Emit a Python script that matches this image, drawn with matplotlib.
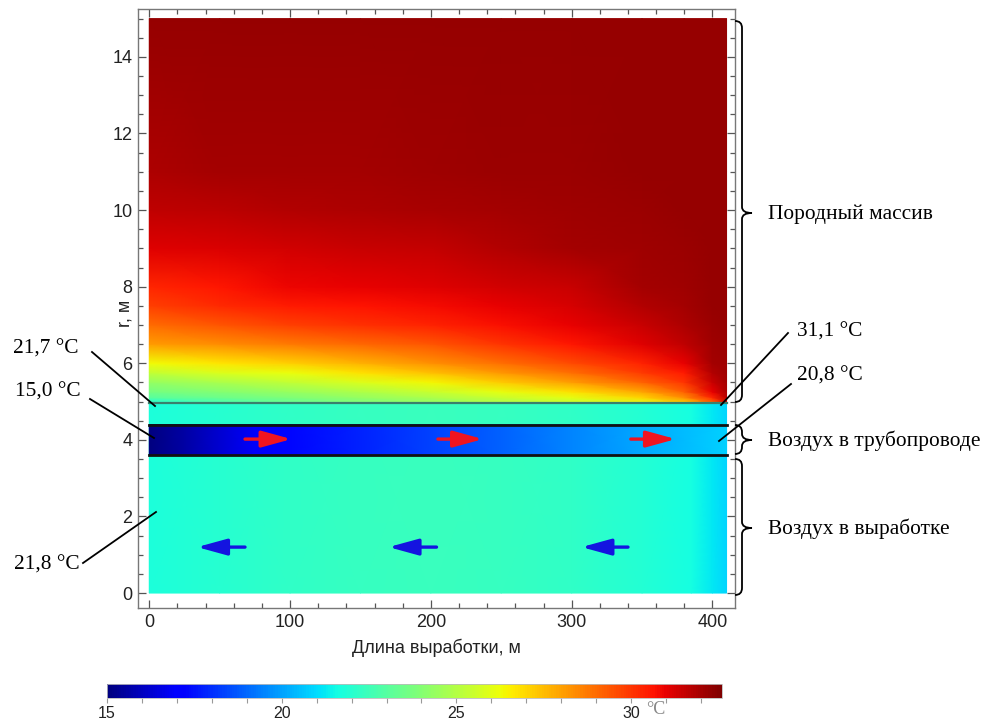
import matplotlib
matplotlib.use("Agg")
import matplotlib.pyplot as plt
import numpy as np
from matplotlib.lines import Line2D
from matplotlib.patches import PathPatch
from matplotlib.path import Path
from matplotlib.ticker import MultipleLocator
from matplotlib.colors import Normalize
from matplotlib.cm import ScalarMappable

W, H = 991, 722
T_MIN, T_MAX = 15.0, 32.6

# rock massif temperature, degC (rows follow ROCK_R, columns follow ROCK_X)
ROCK_X = [0, 50, 100, 150, 200, 250, 300, 350, 380, 400, 410]
ROCK_R = [4.95, 5.1, 5.25, 5.5, 5.75, 6.0, 6.5, 7.0, 7.5, 8.0, 9.0, 10.0, 11.0, 15.0]
ROCK_T = [
    [21.7, 22.5, 23.2, 23.7, 24.2, 24.7, 25.2, 25.8, 27.0, 29.0, 31.1],
    [23.0, 23.4, 23.8, 24.3, 24.8, 25.4, 26.0, 27.0, 28.3, 30.2, 31.6],
    [23.6, 24.0, 24.4, 24.9, 25.4, 26.1, 26.8, 27.9, 29.2, 31.0, 31.9],
    [24.3, 24.8, 25.3, 25.85, 26.4, 27.2, 28.0, 29.1, 30.0, 31.5, 32.0],
    [25.3, 25.8, 26.2, 26.8, 27.4, 28.15, 28.9, 29.9, 30.5, 31.8, 32.1],
    [26.3, 26.7, 27.1, 27.7, 28.3, 28.95, 29.6, 30.4, 31.0, 32.0, 32.1],
    [28.1, 28.4, 28.7, 29.05, 29.4, 30.0, 30.6, 31.1, 31.6, 32.1, 32.15],
    [29.0, 29.4, 29.8, 30.1, 30.4, 30.7, 31.0, 31.5, 31.9, 32.15, 32.2],
    [29.8, 30.2, 30.5, 30.65, 30.8, 31.0, 31.25, 31.8, 32.0, 32.2, 32.2],
    [30.3, 30.6, 30.9, 31.0, 31.1, 31.3, 31.5, 32.0, 32.1, 32.2, 32.2],
    [31.1, 31.2, 31.35, 31.45, 31.55, 31.8, 32.0, 32.1, 32.15, 32.2, 32.2],
    [31.6, 31.7, 31.8, 31.9, 31.95, 32.05, 32.1, 32.15, 32.2, 32.2, 32.2],
    [31.9, 32.0, 32.0, 32.05, 32.1, 32.15, 32.15, 32.2, 32.2, 32.2, 32.2],
    [32.2, 32.2, 32.2, 32.2, 32.2, 32.2, 32.2, 32.2, 32.2, 32.2, 32.2],
]

# air in the working (0 .. 4.95 m) and in the pipeline (3.6 .. 4.4 m)
AIR_X = [0, 50, 100, 150, 200, 250, 300, 350, 385, 400, 410]
AIR_T = [21.8, 22.0, 22.2, 22.35, 22.4, 22.35, 22.2, 21.9, 21.6, 21.2, 20.9]
PIPE_X = [0, 25, 50, 75, 100, 150, 200, 250, 300, 350, 410]
PIPE_T = [15.0, 15.6, 16.3, 16.9, 17.3, 17.8, 18.3, 18.9, 19.5, 20.1, 20.8]
R_WALL = 4.95
R_PIPE = (3.6, 4.4)
X_END = 410

# flow arrows: (tail x, tip x)
PIPE_ARROWS = [(68, 101), (205, 237), (342, 374)]
WORK_ARROWS = [(68, 34), (204, 170), (340, 307)]

# point labels: text, text pos (px), line start (px), line end (px)
LEFT_NOTES = [
    ("21,7 °C", (13, 349), (92, 352), (155, 406)),
    ("15,0 °C", (15, 392), (90, 399), (154, 438)),
    ("21,8 °C", (14, 565), (83, 563), (156, 512)),
]
RIGHT_NOTES = [
    ("31,1 °C", (797, 332), (788, 333), (721, 405)),
    ("20,8 °C", (797, 376), (791, 384), (719, 441)),
]
BRACES = [
    ("Породный массив", 21, 402, 213),
    ("Воздух в трубопроводе", 425, 454, 440),
    ("Воздух в выработке", 459, 595, 528),
]


def fx(px):
    return px / W


def fy(py):
    return 1 - py / H


fig = plt.figure(figsize=(W / 100, H / 100), dpi=100)
ax = fig.add_axes([fx(138), fy(608), fx(735) - fx(138), fy(9) - fy(608)])

norm = Normalize(T_MIN, T_MAX)
cmap = plt.get_cmap("jet")

ax.pcolormesh(AIR_X, [0, R_WALL], [AIR_T, AIR_T], shading="gouraud", cmap=cmap, norm=norm)
ax.pcolormesh(PIPE_X, list(R_PIPE), [PIPE_T, PIPE_T], shading="gouraud", cmap=cmap, norm=norm)
ax.pcolormesh(ROCK_X, ROCK_R, ROCK_T, shading="gouraud", cmap=cmap, norm=norm)

ax.plot([0, X_END], [R_WALL, R_WALL], color="#3b7f6c", lw=1.6)
for r in R_PIPE:
    ax.plot([0, X_END], [r, r], color="#111111", lw=2.0)

arrow_style = "-|>,head_length=1.2,head_width=0.33"
for x0, x1 in PIPE_ARROWS:
    ax.annotate("", xy=(x1, 4.02), xytext=(x0, 4.02),
                arrowprops=dict(arrowstyle=arrow_style, lw=2.4, color="#f01420",
                                mutation_scale=15, shrinkA=0, shrinkB=0))
for x0, x1 in WORK_ARROWS:
    ax.annotate("", xy=(x1, 1.2), xytext=(x0, 1.2),
                arrowprops=dict(arrowstyle=arrow_style, lw=2.4, color="#1414e0",
                                mutation_scale=15, shrinkA=0, shrinkB=0))

ax.set_xlim(-8, 416)
ax.set_ylim(-0.39, 15.25)
ax.xaxis.set_major_locator(MultipleLocator(100))
ax.xaxis.set_minor_locator(MultipleLocator(20))
ax.yaxis.set_major_locator(MultipleLocator(2))
ax.yaxis.set_minor_locator(MultipleLocator(0.5))
ax.tick_params(which="both", direction="in", top=True, right=True,
               color="#555555", width=0.9)
ax.tick_params(which="major", length=6, labelsize=13, labelcolor="#222222", pad=4)
ax.tick_params(which="minor", length=3.5)
for lab in ax.get_xticklabels() + ax.get_yticklabels():
    lab.set_family("Liberation Sans")
for s in ax.spines.values():
    s.set_color("#777777")
    s.set_linewidth(1.0)

ax.set_xlabel("Длина выработки, м", fontsize=13, family="Liberation Sans",
              color="#222222", labelpad=6)
ax.set_ylabel("r, м", fontsize=13, family="Liberation Sans", color="#222222",
              va="center", ha="center")
ax.yaxis.set_label_coords((125 - 138) / (735 - 138), (608 - 313) / (608 - 9))

# annotations outside the axes
serif = dict(family="Liberation Serif", fontsize=15.4, color="black")
for txt, (tx, ty), (x0, y0), (x1, y1) in LEFT_NOTES + RIGHT_NOTES:
    fig.text(fx(tx), fy(ty), txt, ha="left", va="center", **serif)
    fig.add_artist(Line2D([fx(x0), fx(x1)], [fy(y0), fy(y1)],
                          transform=fig.transFigure, color="black", lw=1.3))

bx = 742
for txt, top, bot, tip in BRACES:
    verts = [(bx - 7, top), (bx, top), (bx, top + 7),
             (bx, tip - 6), (bx, tip), (bx + 10, tip),
             (bx, tip), (bx, tip + 6),
             (bx, bot - 7), (bx, bot), (bx - 7, bot)]
    codes = [Path.MOVETO, Path.CURVE3, Path.CURVE3,
             Path.LINETO, Path.CURVE3, Path.CURVE3,
             Path.CURVE3, Path.CURVE3,
             Path.LINETO, Path.CURVE3, Path.CURVE3]
    path = Path([(fx(x), fy(y)) for x, y in verts], codes)
    fig.add_artist(PathPatch(path, transform=fig.transFigure, fill=False,
                             edgecolor="black", lw=1.3))
    fig.text(fx(768), fy(tip + 1), txt, ha="left", va="center", **serif)

# colour bar
cax = fig.add_axes([fx(107), fy(698), fx(722) - fx(107), fy(684) - fy(698)])
cb = fig.colorbar(ScalarMappable(norm=norm, cmap=cmap), cax=cax, orientation="horizontal")
cb.set_ticks([15, 20, 25, 30])
cax.xaxis.set_minor_locator(MultipleLocator(1))
cax.tick_params(which="both", direction="out", length=3.5, width=0.8, color="#999999")
cax.tick_params(which="major", labelsize=11.5, labelcolor="#222222", pad=2)
for lab in cax.get_xticklabels():
    lab.set_family("Liberation Sans")
cb.outline.set_edgecolor("#bbbbbb")
cb.outline.set_linewidth(0.6)
fig.text(fx(646), fy(710), "°C", family="Liberation Serif", fontsize=13,
         color="#888888", ha="left", va="center")

fig.savefig("out.png", dpi=100)
